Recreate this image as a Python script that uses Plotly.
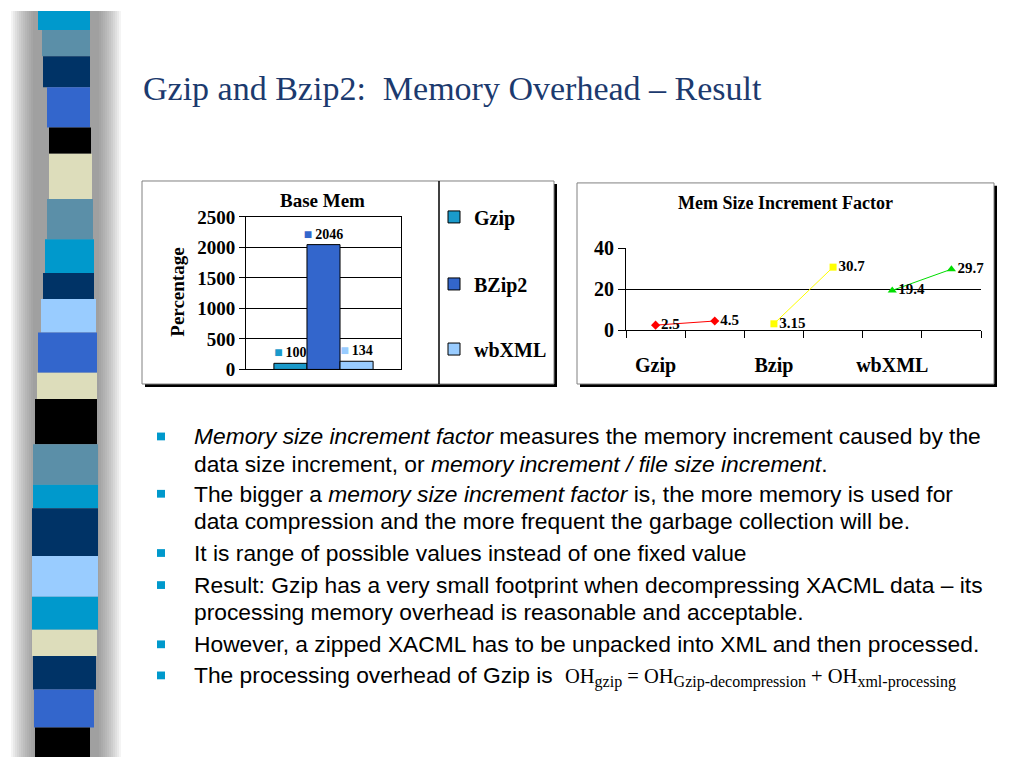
import plotly.graph_objects as go

W, H = 1024, 768


def px(x):
    return x / W


def py(y):
    return 1 - y / H


SERIF = "Liberation Serif"
SANS = "Liberation Sans"

# ---------------- data ----------------
bar_category = ["Base Mem"]
bar_series = ["Gzip", "BZip2", "wbXML"]
bar_values = [100, 2046, 134]
bar_colors = ["#1A9ACB", "#3366CC", "#99CCFF"]
bar_ticks = [0, 500, 1000, 1500, 2000, 2500]

line_categories = ["Gzip", "Bzip", "wbXML"]
line_category_pos = [0, 2, 4]
gzip_x = [0, 1]
gzip_y = [2.5, 4.5]
bzip_x = [2, 3]
bzip_y = [3.15, 30.7]
wbxml_x = [4, 5]
wbxml_y = [19.4, 29.7]
line_ticks = [0, 20, 40]

fig = go.Figure()

# ---------------- bar chart ----------------
legends = ["legend", "legend2", "legend3"]
for name, val, col, lg in zip(bar_series, bar_values, bar_colors, legends):
    fig.add_trace(go.Bar(
        x=bar_category, y=[val], name=name,
        marker=dict(color=col, line=dict(color="#000000", width=1)),
        text=[f"<span style='color:{col}'>■</span>\u2009{val}"],
        textposition="outside", constraintext="none", cliponaxis=False,
        textfont=dict(family=SERIF, size=14, color="black", weight="bold"),
        legend=lg, xaxis="x", yaxis="y",
    ))

# ---------------- line chart ----------------
line_specs = [
    (gzip_x, gzip_y, "#FF0000", "diamond", 7),
    (bzip_x, bzip_y, "#FFFF00", "square", 7),
    (wbxml_x, wbxml_y, "#00DD00", "triangle-up", 8),
]
for xs, ys, col, sym, sz in line_specs:
    fig.add_trace(go.Scatter(
        x=xs, y=ys, mode="lines+markers+text",
        line=dict(color=col, width=1),
        marker=dict(color=col, symbol=sym, size=sz),
        text=[str(v) for v in ys], textposition="middle right",
        textfont=dict(family=SERIF, size=15, color="black", weight="bold"),
        showlegend=False, cliponaxis=False, xaxis="x2", yaxis="y2",
    ))

# ---------------- decorative shapes ----------------
shapes = []
# stripe shadow
for d in range(2, 26, 2):
    shapes.append(dict(type="rect", xref="paper", yref="paper",
                       x0=px(35 - d), x1=px(97 + d), y0=py(768), y1=py(0),
                       fillcolor="#606060", opacity=0.07, line=dict(width=0), layer="below"))
stripe = [
    (0, 19.6, "#0099CC", 38, 90), (19.6, 46.6, "#5B8FA8", 42, 90),
    (46.6, 78.4, "#003366", 43, 90), (78.4, 120, "#3366CC", 47, 90),
    (120, 147, "#000000", 49, 91), (147, 193.6, "#DDDDBB", 49, 92),
    (193.6, 235, "#5B8FA8", 47, 93), (235, 269.6, "#0099CC", 45, 94),
    (269.6, 296.6, "#003366", 43, 94), (296.6, 331, "#99CCFF", 41, 96),
    (331, 372.5, "#3366CC", 38, 97), (372.5, 399.5, "#DDDDBB", 37, 97),
    (399.5, 446, "#000000", 35, 97), (446, 487.7, "#5B8FA8", 33, 98),
    (487.7, 512, "#0099CC", 33, 98), (512, 561, "#003366", 32, 98),
    (561, 603, "#99CCFF", 32, 98), (603, 637, "#0099CC", 32, 98),
    (637, 664, "#DDDDBB", 32, 97), (664, 698.5, "#003366", 33, 96),
    (698.5, 737.7, "#3366CC", 34, 94), (737.7, 768, "#000000", 35, 90),
]
for y0, y1, col, x0, x1 in stripe:
    shapes.append(dict(type="rect", xref="paper", yref="paper",
                       x0=px(x0), x1=px(x1), y0=py(y1), y1=py(y0),
                       fillcolor=col, line=dict(width=0), layer="below"))

# chart frames with shadows
for (l, t, r, b) in [(142, 175, 554, 384), (577, 177, 994, 384)]:
    shapes.append(dict(type="rect", xref="paper", yref="paper",
                       x0=px(l + 3), x1=px(r + 3), y0=py(b + 3), y1=py(t + 3),
                       fillcolor="#000000", line=dict(width=0), layer="below"))
    shapes.append(dict(type="rect", xref="paper", yref="paper",
                       x0=px(l), x1=px(r), y0=py(b), y1=py(t),
                       fillcolor="#FFFFFF", line=dict(color="#808080", width=1), layer="below"))
# legend separator in bar chart frame
shapes.append(dict(type="line", xref="paper", yref="paper",
                   x0=px(439), x1=px(439), y0=py(384), y1=py(175),
                   line=dict(color="#000000", width=1.5), layer="below"))

# bullets
bullet_rows = [438, 497, 558, 591, 652, 684]
for yb in bullet_rows:
    shapes.append(dict(type="rect", xref="paper", yref="paper",
                       x0=px(157), x1=px(165), y0=py(yb + 4), y1=py(yb - 4),
                       fillcolor="#0099CC", line=dict(width=0)))

# ---------------- text ----------------
annotations = []
annotations.append(dict(text="Gzip and Bzip2:  Memory Overhead – Result",
                        x=px(141), y=py(80), xref="paper", yref="paper",
                        xanchor="left", yanchor="middle", showarrow=False,
                        font=dict(family=SERIF, size=34, color="#1C3A6E")))
annotations.append(dict(text="Base Mem", x=px(322), y=py(195), xref="paper", yref="paper",
                        xanchor="center", yanchor="middle", showarrow=False,
                        font=dict(family=SERIF, size=19, color="black", weight="bold")))
annotations.append(dict(text="Percentage", x=px(178), y=py(290), xref="paper", yref="paper",
                        xanchor="center", yanchor="middle", showarrow=False, textangle=-90,
                        font=dict(family=SERIF, size=19, color="black", weight="bold")))
annotations.append(dict(text="Mem Size Increment Factor", x=px(785), y=py(198), xref="paper", yref="paper",
                        xanchor="center", yanchor="middle", showarrow=False,
                        font=dict(family=SERIF, size=18, color="black", weight="bold")))

text_lines = [
    (438, "<i>Memory size increment factor</i> measures the memory increment caused by the"),
    (466, "data size increment, or <i>memory increment / file size increment</i>."),
    (497, "The bigger a <i>memory size increment factor</i> is, the more memory is used for"),
    (525, "data compression and the more frequent the garbage collection will be."),
    (558, "It is range of possible values instead of one fixed value"),
    (591, "Result: Gzip has a very small footprint when decompressing XACML data – its"),
    (619, "processing memory overhead is reasonable and acceptable."),
    (652, "However, a zipped XACML has to be unpacked into XML and then processed."),
    (684, "The processing overhead of Gzip is"),
]
for yl, txt in text_lines:
    annotations.append(dict(text=txt, x=px(192), y=py(yl), xref="paper", yref="paper",
                            xanchor="left", yanchor="middle", showarrow=False,
                            font=dict(family=SANS, size=22.8, color="black")))
sub = "<sub><span style='font-size:16px'>{}</span></sub>"
annotations.append(dict(
    text="OH" + sub.format("gzip") + " = OH" + sub.format("Gzip-decompression")
         + " + OH" + sub.format("xml-processing"),
    x=px(563), y=py(687), xref="paper", yref="paper", xanchor="left", yanchor="middle",
    showarrow=False, font=dict(family=SERIF, size=20.5, color="black")))

tickfont_bar = dict(family=SERIF, size=19, color="black", weight="bold")
tickfont_line = dict(family=SERIF, size=20, color="black", weight="bold")
legfont = dict(family=SERIF, size=20, color="black", weight="bold")

fig.update_layout(
    width=W, height=H, margin=dict(l=0, r=0, t=0, b=0),
    paper_bgcolor="white", plot_bgcolor="rgba(0,0,0,0)",
    barmode="group", bargap=0.36, bargroupgap=0,
    shapes=shapes, annotations=annotations,
    xaxis=dict(domain=[px(246), px(401)], showticklabels=False, ticks="",
               showline=True, linecolor="black", mirror=True, showgrid=False,
               anchor="y"),
    yaxis=dict(domain=[py(369), py(212)], range=[0, 2500], tickvals=bar_ticks,
               showgrid=True, gridcolor="black", gridwidth=1, zeroline=False,
               showline=True, linecolor="black", mirror=True,
               ticks="outside", ticklen=6, tickcolor="black", tickfont=tickfont_bar,
               anchor="x"),
    xaxis2=dict(domain=[px(626), px(981)], range=[-0.5, 5.5],
                tickvals=line_category_pos, ticktext=line_categories, ticks="",
                showline=True, linecolor="black", showgrid=False, zeroline=False,
                ticklabelstandoff=17, tickfont=tickfont_line,
                minor=dict(tickvals=[-0.5, 0.5, 1.5, 2.5, 3.5, 4.5, 5.5], ticks="outside",
                           ticklen=7, tickcolor="black", showgrid=False),
                anchor="y2"),
    yaxis2=dict(domain=[py(328.7), py(244)], range=[0, 40], tickvals=line_ticks,
                showgrid=True, gridcolor="black", gridwidth=1, zeroline=False,
                showline=True, linecolor="black",
                ticks="outside", ticklen=7, tickcolor="black", tickfont=tickfont_line,
                anchor="x2"),
    legend=dict(x=px(434), y=py(212), xanchor="left", yanchor="middle",
                bgcolor="rgba(0,0,0,0)", font=legfont),
    legend2=dict(x=px(434), y=py(281), xanchor="left", yanchor="middle",
                 bgcolor="rgba(0,0,0,0)", font=legfont),
    legend3=dict(x=px(434), y=py(348), xanchor="left", yanchor="middle",
                 bgcolor="rgba(0,0,0,0)", font=legfont),
)

post = (
    "var s=document.documentElement.style;s.margin='0';s.padding='0';s.overflow='hidden';"
    "var b=document.body.style;b.margin='0';b.padding='0';b.overflow='hidden';"
)
fig.write_html("out.html", config={"displayModeBar": False, "responsive": False},
               post_script=post)
